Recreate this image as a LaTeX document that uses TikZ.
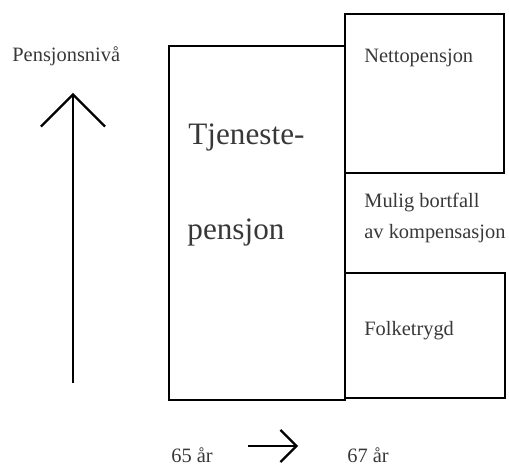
\documentclass[tikz,border=0pt]{standalone}
\usepackage{fontspec}
\setmainfont{Liberation Serif}
\usepackage{xcolor}
\colorlet{colTxt}{black!78}
\usetikzlibrary{arrows.meta, positioning}

\begin{document}
\begin{tikzpicture}[x=0.5pt, y=-0.5pt,
		box/.style={draw, line width=1.4pt, rectangle, inner sep=0pt},
		lbl/.style={anchor=base west, inner sep=0pt, text=colTxt, font=\fontsize{10.2}{12}\selectfont},
		biglbl/.style={lbl, font=\fontsize{15.6}{18}\selectfont},
		pil/.style={line width=1.1pt, -{Straight Barb[length=16pt, width=32pt, line width=1.1pt]}}]
				\useasboundingbox (0,0) rectangle (509,465);
				% Boxes
				\node[box, minimum width=88pt, minimum height=177pt] (tjeneste) at (257,223) {};
				\node[box, minimum width=79.5pt, minimum height=79.5pt] (netto) at (424.5,93.5) {};
				\node[box, minimum width=80pt, minimum height=62.5pt] (folke) at (425,335.5) {};
				% Texts
				\node[biglbl] (tjtxt1) at (188,145) {Tjeneste-};
				\node[biglbl] (tjtxt2) at (187,240) {pensjon};
				\node[lbl] (nettotxt) at (364,63) {Nettopensjon};
				\node[lbl] (bortfall1) at (364,207) {Mulig bortfall};
				\node[lbl] (bortfall2) at (364,238) {av kompensasjon};
				\node[lbl] (folketxt) at (364,335) {Folketrygd};
				\node[lbl] (nivaa) at (12,62) {Pensjonsnivå};
				\node[lbl] (aar65) at (171,462) {65 år};
				\node[lbl] (aar67) at (347,462) {67 år};
				% Arrows
				\coordinate (vBunn) at (73,383);
				\coordinate (vTopp) at (73,93);
				\coordinate (hStart) at (248,446);
				\coordinate (hSlutt) at (298,446);
				\draw[pil] (vBunn) -- (vTopp);
				\draw[pil, -{Straight Barb[length=8pt, width=16pt, line width=1.1pt]}] (hStart) -- (hSlutt);
			\end{tikzpicture}
\end{document}
